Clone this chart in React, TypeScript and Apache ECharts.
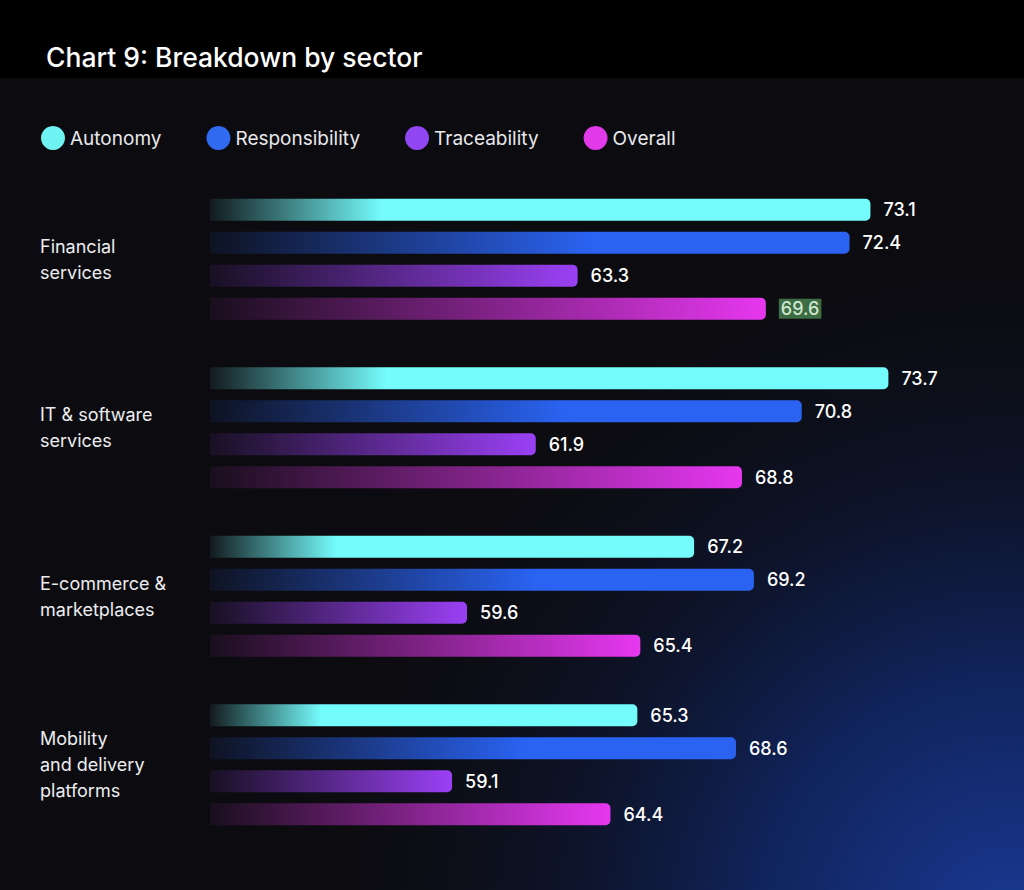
import React, { useEffect, useRef } from "react";
import * as echarts from "echarts";

const categories = [
  "Financial\nservices",
  "IT & software\nservices",
  "E-commerce &\nmarketplaces",
  "Mobility\nand delivery\nplatforms",
];
const seriesNames = ["Autonomy", "Responsibility", "Traceability", "Overall"];
const autonomy = [73.1, 73.7, 67.2, 65.3];
const responsibility = [72.4, 70.8, 69.2, 68.6];
const traceability = [63.3, 61.9, 59.6, 59.1];
const overall = [69.6, 68.8, 65.4, 64.4];
const highlightedOverallIndex = 0;

const FONT = "Inter, 'Noto Sans', sans-serif";

function grad(stops: [number, string][]) {
  return new echarts.graphic.LinearGradient(
    0,
    0,
    1,
    0,
    stops.map(([offset, color]) => ({ offset, color }))
  );
}

export default function App() {
  const ref = useRef<HTMLDivElement>(null);

  useEffect(() => {
    document.body.style.margin = "0";
    if (!ref.current) return;
    const chart = echarts.init(ref.current, undefined, { renderer: "svg" });

    const colors = ["#74fbfb", "#2a63f2", "#9b40f5", "#e737f0"];
    const legendColors = ["#6ff2f2", "#2f6af0", "#9046f0", "#e23ae9"];
    const fills = [
      grad([
        [0, "rgba(116,251,251,0.06)"],
        [0.26, "#74fbfb"],
        [1, "#74fbfb"],
      ]),
      grad([
        [0, "rgba(42,99,242,0.08)"],
        [0.6, "#2a63f2"],
        [1, "#2a63f2"],
      ]),
      grad([
        [0, "rgba(155,64,245,0.08)"],
        [1, "#9b40f5"],
      ]),
      grad([
        [0, "rgba(231,55,240,0.06)"],
        [1, "#e737f0"],
      ]),
    ];
    const values = [autonomy, responsibility, traceability, overall];

    const series = seriesNames.map((name, si) => ({
      name,
      type: "bar",
      barWidth: 22,
      barGap: "50%",
      itemStyle: { color: fills[si], borderRadius: [0, 5, 5, 0] },
      label: {
        show: true,
        position: "right",
        distance: 13,
        color: "#ffffff",
        fontSize: 18,
        fontWeight: 500,
        fontFamily: FONT,
      },
      emphasis: { disabled: true },
      data: values[si].map((v, i) =>
        si === 3 && i === highlightedOverallIndex
          ? {
              value: v,
              label: {
                backgroundColor: "#3e6c45",
                color: "#cfe6cf",
                padding: [1, 2, 1, 2],
              },
            }
          : v
      ),
    }));

    chart.setOption({
      animation: false,
      backgroundColor: "#0c0c10",
      graphic: [
        {
          type: "rect",
          z: 0,
          silent: true,
          shape: { x: 0, y: 0, width: 1024, height: 890 },
          style: {
            fill: new echarts.graphic.RadialGradient(
              1010,
              930,
              720,
              [
                { offset: 0, color: "rgba(26,58,150,1)" },
                { offset: 0.35, color: "rgba(18,44,118,0.75)" },
                { offset: 0.7, color: "rgba(14,24,60,0.35)" },
                { offset: 1, color: "rgba(12,12,16,0)" },
              ],
              true
            ),
          },
        },
        {
          type: "rect",
          z: 0,
          silent: true,
          shape: { x: 0, y: 0, width: 1024, height: 78 },
          style: { fill: "#000000" },
        },
      ],
      title: {
        text: "Chart 9: Breakdown by sector",
        left: 46,
        top: 43,
        padding: 0,
        textStyle: {
          color: "#ffffff",
          fontSize: 26.5,
          fontWeight: 500,
          fontFamily: FONT,
        },
      },
      legend: {
        left: 36,
        top: 121,
        icon: "circle",
        itemWidth: 24,
        itemHeight: 24,
        itemGap: 45,
        selectedMode: false,
        textStyle: { color: "#e8e8ec", fontSize: 19, fontFamily: FONT },
        data: seriesNames.map((n, i) => ({
          name: n,
          itemStyle: { color: legendColors[i] },
        })),
      },
      color: colors,
      grid: { left: 210, top: 175, width: 777, height: 674 },
      xAxis: {
        type: "value",
        min: 51,
        max: 77,
        show: false,
        splitLine: { show: false },
      },
      yAxis: {
        type: "category",
        data: categories,
        inverse: true,
        axisLine: { show: false },
        axisTick: { show: false },
        splitLine: { show: false },
        axisLabel: {
          align: "left",
          margin: 170,
          color: "#ececf0",
          fontSize: 18,
          lineHeight: 26,
          fontFamily: FONT,
        },
      },
      series,
    });

    return () => chart.dispose();
  }, []);

  return <div ref={ref} style={{ width: 1024, height: 890 }} />;
}
